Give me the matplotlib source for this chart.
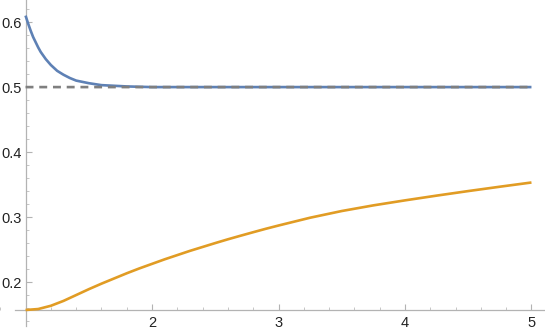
import matplotlib
matplotlib.use("Agg")
import matplotlib.pyplot as plt
from matplotlib.ticker import MultipleLocator, FixedLocator

plt.rcParams['font.family'] = ['Liberation Sans', 'DejaVu Sans']

# Data
blue_x = [1.0, 1.02, 1.04, 1.06, 1.08, 1.10, 1.12, 1.16, 1.2, 1.25, 1.3, 1.35, 1.4, 1.45, 1.5, 1.6, 1.7, 1.8, 1.9, 2.0, 2.5, 3.0, 4.0, 5.0]
blue_y = [0.610, 0.598, 0.587, 0.577, 0.569, 0.561, 0.554, 0.543, 0.534, 0.525, 0.519, 0.514, 0.510, 0.508, 0.506, 0.503, 0.502, 0.501, 0.5005, 0.500, 0.500, 0.500, 0.500, 0.500]

orange_x = [1.0, 1.1, 1.2, 1.3, 1.4, 1.5, 1.6, 1.7, 1.8, 1.9, 2.0, 2.1, 2.2, 2.3, 2.4, 2.5, 2.6, 2.7, 2.8, 2.9, 3.0,
            3.25, 3.5, 3.75, 4.0, 4.25, 4.5, 4.75, 5.0]
orange_y = [0.157, 0.1585, 0.1635, 0.171, 0.180, 0.189, 0.1975, 0.2055, 0.2135, 0.2210, 0.2280, 0.2350, 0.2415,
            0.2480, 0.2540, 0.2600, 0.2658, 0.2713, 0.2767, 0.2820, 0.2870,
            0.2990, 0.3093, 0.3180, 0.3257, 0.3330, 0.3400, 0.3467, 0.3532]

ref_x = [1.0, 5.0]
ref_y = [0.5, 0.5]

x_major = [2, 3, 4, 5]
y_major = [0.2, 0.3, 0.4, 0.5, 0.6]
y_labels = ["0.2", "0.3", "0.4", "0.5", "0.6"]

fig = plt.figure(figsize=(5.45, 3.36), dpi=100)
ax = fig.add_axes([0, 0, 1, 1])
ax.set_xlim(0.798, 5.107)
ax.set_ylim(0.117, 0.634)

ax.plot(blue_x, blue_y, color="#5E81B5", lw=1.9, zorder=3, solid_capstyle="butt", snap=False)
ax.plot(orange_x, orange_y, color="#E19C24", lw=1.9, zorder=3, solid_capstyle="butt")
ax.plot(ref_x, ref_y, color="#7f7f7f", lw=1.9, dashes=(3.0, 2.2), zorder=4, snap=False)

for s in ["top", "right"]:
    ax.spines[s].set_visible(False)
ax.spines["left"].set_position(("data", 1.0))
ax.spines["bottom"].set_position(("data", 0.157))
ax.spines["left"].set_bounds(0.132, 0.634)
ax.spines["bottom"].set_bounds(0.917, 5.107)
for s in ["left", "bottom"]:
    ax.spines[s].set_color("#b3b3b3")
    ax.spines[s].set_linewidth(0.9)

ax.xaxis.set_major_locator(FixedLocator(x_major))
ax.xaxis.set_minor_locator(MultipleLocator(0.2))
ax.yaxis.set_major_locator(FixedLocator(y_major))
ax.set_yticklabels(y_labels)
ax.yaxis.set_minor_locator(FixedLocator([0.14 + 0.02 * i for i in range(25)]))

ax.tick_params(which="major", direction="in", length=4.5, width=0.8, color="#b3b3b3",
               labelsize=10.5, labelcolor="#222222")
ax.tick_params(which="minor", direction="in", length=2.5, width=0.7, color="#c6c6c6")
ax.tick_params(axis="x", which="major", pad=4.5)
ax.tick_params(axis="y", which="major", pad=3.0)

fig.savefig("out.png", dpi=100)
